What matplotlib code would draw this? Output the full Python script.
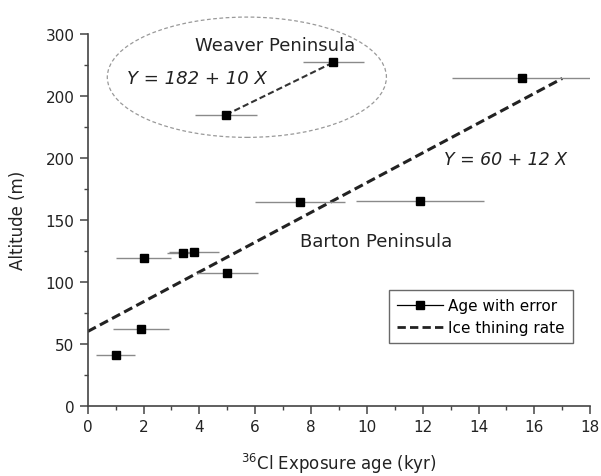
import matplotlib
matplotlib.use("Agg")
import matplotlib.pyplot as plt
from matplotlib.patches import Ellipse
from matplotlib.lines import Line2D
from matplotlib.ticker import MultipleLocator

plt.rcParams['font.family'] = ['DejaVu Sans']
plt.rcParams['mathtext.fontset'] = 'dejavusans'

# Barton Peninsula samples: age (kyr), age error (kyr), altitude (m)
barton_age = [1.0, 1.9, 2.0, 3.4, 3.8, 5.0, 7.6, 11.9, 15.55]
barton_err = [0.7, 1.0, 1.0, 0.55, 0.9, 1.1, 1.6, 2.3, 2.5]
barton_alt = [41, 62, 119.5, 123, 124, 107, 164, 165, 264.5]

# Weaver Peninsula samples
weaver_age = [4.95, 8.8]
weaver_err = [1.1, 1.1]
weaver_alt = [234.7, 277]

# ice thinning rate fit (Barton): Y = 60 + 12 X
fit_x = [0, 17]
fit_intercept = 60
fit_slope = 12

ytick_values = [0, 50, 100, 150, 200, 250, 300]
ytick_labels = ['0', '50', '100', '150', '200', '200', '300']

fig = plt.figure(figsize=(6.01, 4.77), dpi=100)
ax = fig.add_axes([0.146, 0.147, 0.836, 0.78])

fit_y = [fit_intercept + fit_slope * x for x in fit_x]

ax.errorbar(barton_age, barton_alt, xerr=barton_err, fmt='s', color='black',
            ecolor='#8a8a8a', elinewidth=1.0, capsize=0, markersize=6,
            zorder=3)
ax.errorbar(weaver_age, weaver_alt, xerr=weaver_err, fmt='s', color='black',
            ecolor='#8a8a8a', elinewidth=1.0, capsize=0, markersize=6, zorder=3)

ax.plot(fit_x, fit_y, linestyle=(0, (3, 1.5)), color='#222222', linewidth=2.2)
ax.plot(weaver_age, weaver_alt, linestyle=(0, (3, 1.5)), color='#333333',
        linewidth=1.5)

ell = Ellipse((5.7, 265), 10.0, 97, fill=False, edgecolor='#999999',
              linestyle=(0, (3, 2)), linewidth=0.9, clip_on=False)
ax.add_patch(ell)

ax.text(6.7, 291, 'Weaver Peninsula', fontsize=13, ha='center', va='center',
        color='#222222')
ax.text(1.4, 264.5, 'Y = 182 + 10 X', fontsize=13, style='italic',
        ha='left', va='center', color='#222222')
ax.text(12.75, 199, 'Y = 60 + 12 X', fontsize=12.5, style='italic',
        ha='left', va='center', color='#222222')
ax.text(7.6, 133, 'Barton Peninsula', fontsize=13, ha='left', va='center',
        color='#222222')

ax.set_xlim(0, 18)
ax.set_ylim(0, 300)
ax.xaxis.set_major_locator(MultipleLocator(2))
ax.xaxis.set_minor_locator(MultipleLocator(1))
ax.set_yticks(ytick_values)
ax.set_yticklabels(ytick_labels)
ax.yaxis.set_minor_locator(MultipleLocator(25))

ax.spines['top'].set_visible(False)
ax.spines['right'].set_visible(False)
for s in ['left', 'bottom']:
    ax.spines[s].set_color('#444444')
    ax.spines[s].set_linewidth(1.2)
ax.tick_params(which='major', length=6, width=1.1, colors='#444444',
               labelsize=11, labelcolor='#222222')
ax.tick_params(which='minor', length=3, width=1.0, colors='#444444')

ax.set_xlabel(r'$^{36}$Cl Exposure age (kyr)', fontsize=12, color='#222222',
              labelpad=12)
ax.set_ylabel('Altitude (m)', fontsize=12, color='#222222', labelpad=13)

handles = [
    Line2D([], [], color='black', linewidth=0.9, marker='s', markersize=6),
    Line2D([], [], color='#222222', linewidth=2.0, linestyle=(0, (3, 1.5))),
]
labels = ['Age with error', 'Ice thining rate']
leg = ax.legend(handles, labels, loc='lower right',
                bbox_to_anchor=(0.965, 0.168), fontsize=11,
                frameon=True, fancybox=False, handlelength=3.0,
                borderpad=0.55, labelspacing=0.45, handletextpad=0.3,
                borderaxespad=0)
leg.get_frame().set_edgecolor('#444444')
leg.get_frame().set_linewidth(1.0)

fig.savefig('out.png', dpi=100)
